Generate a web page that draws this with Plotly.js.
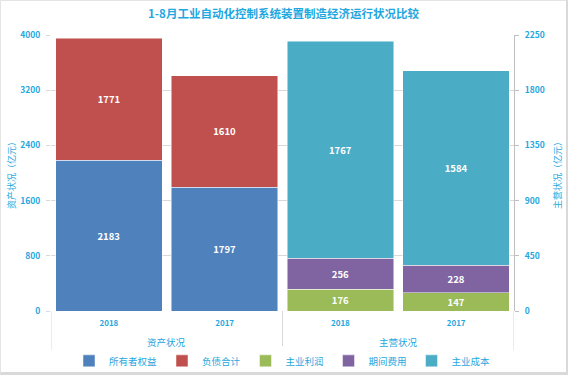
<!DOCTYPE html>
<html><head><meta charset="utf-8">
<script src="https://cdn.plot.ly/plotly-3.0.1.min.js"></script>
<style>
html,body{margin:0;padding:0;background:#fff;}
#wrap{width:568px;height:375px;box-sizing:border-box;border-top:1px solid #e4e4e4;border-left:1px solid #e4e4e4;border-right:2px solid #d9d9d9;border-bottom:3px solid #d9d9d9;overflow:hidden;}
#chart{width:565px;height:371px;}
</style></head>
<body><div id="wrap"><div id="chart"></div></div>
<script>
const title = "1-8月工业自动化控制系统装置制造经济运行状况比较";
const groups = ["资产状况", "主营状况"];
const years = ["2018", "2017"];
const ownersEquity = [2183, 1797];
const liabilities = [1771, 1610];
const mainProfit = [176, 147];
const periodExpense = [256, 228];
const mainCost = [1767, 1584];
const leftTicks = [0, 800, 1600, 2400, 3200, 4000];
const rightTicks = [0, 450, 900, 1350, 1800, 2250];

const blue = "#1FA7E0";
const font = '"Noto Sans CJK SC", "DejaVu Sans", sans-serif';
// unique category keys (group + year); tick labels show the year only
const catsAsset = years.map(y => groups[0] + " " + y);
const catsOps = years.map(y => groups[1] + " " + y);
const allCats = catsAsset.concat(catsOps);
const allYearLabels = years.concat(years);

function bar(name, x, y, color, yaxis) {
  return {
    type: "bar", name: name, x: x, y: y, yaxis: yaxis,
    marker: {color: color, line: {color: "rgba(255,255,255,0.6)", width: 0.8}},
    text: y.map(String), textposition: "inside", insidetextanchor: "middle",
    textfont: {color: "#ffffff", size: 9.5, family: font, weight: "bold"},
    hoverinfo: "none"
  };
}

const data = [
  bar("所有者权益", catsAsset, ownersEquity, "#4F81BD", "y"),
  bar("负债合计", catsAsset, liabilities, "#C0504D", "y"),
  bar("主业利润", catsOps, mainProfit, "#9BBB59", "y2"),
  bar("期间费用", catsOps, periodExpense, "#8064A2", "y2"),
  bar("主业成本", catsOps, mainCost, "#4BACC6", "y2")
];

const plotH = 371 - 34 - 61;
const dividerBottom = -39 / plotH;
const shapes = [-0.5, 1.5, 3.5].map(xv => ({
  type: "line", xref: "x", yref: "paper", x0: xv, x1: xv, y0: 0, y1: dividerBottom,
  line: {color: "#d9d9d9", width: 1}
}));
const annotations = groups.map((g, i) => ({
  text: g, xref: "x", yref: "paper", x: i * 2 + 0.5, y: -31 / plotH,
  xanchor: "center", yanchor: "middle", showarrow: false,
  font: {size: 9.5, color: blue, family: font}
}));

const layout = {
  width: 565, height: 371,
  margin: {l: 50, r: 52, t: 34, b: 61},
  paper_bgcolor: "#ffffff", plot_bgcolor: "#ffffff",
  barmode: "stack", bargap: 0.08,
  uniformtext: {mode: "show", minsize: 9.5},
  font: {family: font, color: blue, size: 8},
  title: {text: title, x: 0.5, xanchor: "center", y: 0.975, yanchor: "top",
          font: {size: 11.5, color: blue, family: font, weight: "bold"}},
  showlegend: true,
  legend: {orientation: "h", x: 0.5, xanchor: "center", yref: "container", y: 0.03, yanchor: "middle",
           font: {size: 9.5, color: blue, family: font}, traceorder: "normal", itemwidth: 30},
  xaxis: {
    type: "category", categoryorder: "array", categoryarray: allCats,
    tickvals: allCats, ticktext: allYearLabels, range: [-0.5, 3.5],
    showgrid: false, zeroline: false, showline: false, ticks: "",
    ticklabelstandoff: 6,
    tickfont: {size: 8, color: blue, family: font, weight: "bold"}
  },
  yaxis: {
    range: [0, 4000], tickvals: leftTicks, ticktext: leftTicks.map(String),
    showgrid: true, gridcolor: "#d9d9d9", gridwidth: 1, zeroline: false,
    showline: false, ticks: "outside", ticklen: 4, tickcolor: "#d9d9d9",
    ticklabelstandoff: 4,
    tickfont: {size: 8.5, color: blue, family: font, weight: "bold"},
    title: {text: "资产状况（亿元）", font: {size: 9, color: blue, family: font}, standoff: 3}
  },
  yaxis2: {
    overlaying: "y", side: "right", range: [0, 2250], tickvals: rightTicks,
    ticktext: rightTicks.map(String), showgrid: false, zeroline: false,
    showline: true, linecolor: "#bfbfbf", linewidth: 1,
    ticks: "outside", ticklen: 4, tickcolor: "#bfbfbf",
    ticklabelstandoff: 4,
    tickfont: {size: 8.5, color: blue, family: font, weight: "bold"},
    title: {text: "主营状况（亿元）", font: {size: 9, color: blue, family: font}, standoff: 10}
  },
  shapes: shapes,
  annotations: annotations
};

Plotly.newPlot("chart", data, layout, {displayModeBar: false, staticPlot: true});
</script></body></html>
